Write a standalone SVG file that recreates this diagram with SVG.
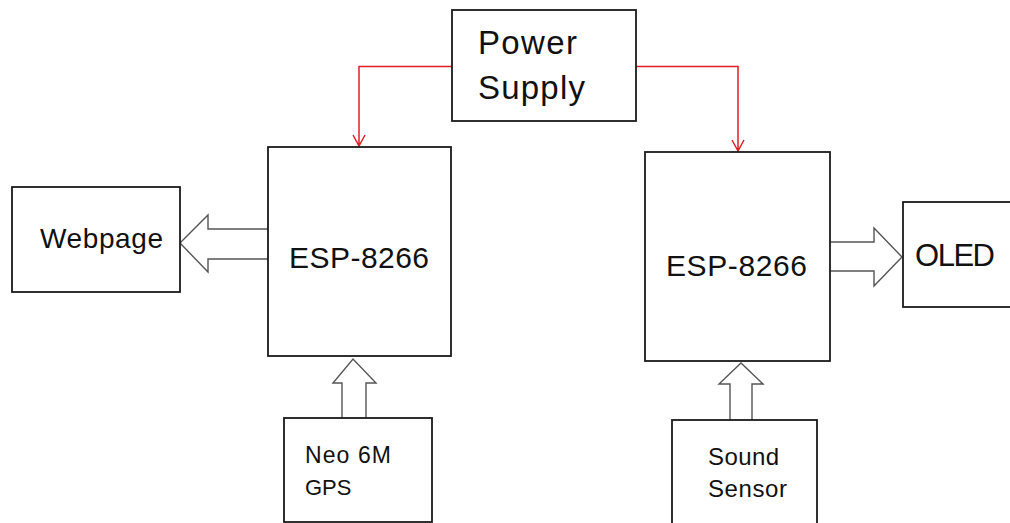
<svg xmlns="http://www.w3.org/2000/svg" width="1010" height="523" viewBox="0 0 1010 523">
<defs>
<style>
.box{fill:#fff;stroke:#1a1a1a;stroke-width:1.8}
.t{font-family:"Liberation Sans",Arial,sans-serif;fill:#111}
.red{fill:none;stroke:#e02020;stroke-width:1.5}
.hollow{fill:#fff;stroke:#555;stroke-width:1.4;stroke-linejoin:miter}
</style>
</defs>
<rect width="1010" height="523" fill="#fff"/>
<g id="connectors">
<path class="red" d="M452,66.5 H359 V146 M353,135 L359,146 L365,135"/>
<path class="red" d="M636,66.5 H738 V151 M732,140 L738,151 L744,140"/>
<path class="hollow" d="M268,229 H208 V215 L180,243 L208,272 V259 H268"/>
<path class="hollow" d="M829,242 H874 V228 L902,257 L874,286 V271 H829"/>
<path class="hollow" d="M342,418 V383 H333 L353,359 L376,383 H366 V418"/>
<path class="hollow" d="M730,420 V384 H719 L741,363 L763,384 H752 V420"/>
</g>
<g id="power">
<rect class="box" x="452" y="10" width="184" height="111"/>
<text class="t" x="478" y="54" font-size="33" textLength="99">Power</text>
<text class="t" x="478" y="99" font-size="33" textLength="107">Supply</text>
</g>
<g id="esp-left">
<rect class="box" x="268" y="147" width="183" height="209"/>
<text class="t" x="289" y="268" font-size="30" textLength="140">ESP-8266</text>
</g>
<g id="esp-right">
<rect class="box" x="645" y="152" width="185" height="209"/>
<text class="t" x="666" y="276" font-size="30" textLength="141">ESP-8266</text>
</g>
<g id="webpage">
<rect class="box" x="12" y="187" width="168" height="105"/>
<text class="t" x="40" y="248" font-size="28" textLength="123">Webpage</text>
</g>
<g id="oled">
<rect class="box" x="903" y="202" width="120" height="105"/>
<text class="t" x="915" y="266" font-size="31" textLength="80">OLED</text>
</g>
<g id="gps">
<rect class="box" x="284" y="418" width="148" height="104"/>
<text class="t" x="305" y="463" font-size="23" textLength="86">Neo 6M</text>
<text class="t" x="305" y="495" font-size="22">GPS</text>
</g>
<g id="sound">
<rect class="box" x="672" y="420" width="145" height="110"/>
<text class="t" x="708" y="465" font-size="24" textLength="71">Sound</text>
<text class="t" x="708" y="497" font-size="24" textLength="79">Sensor</text>
</g>
</svg>
